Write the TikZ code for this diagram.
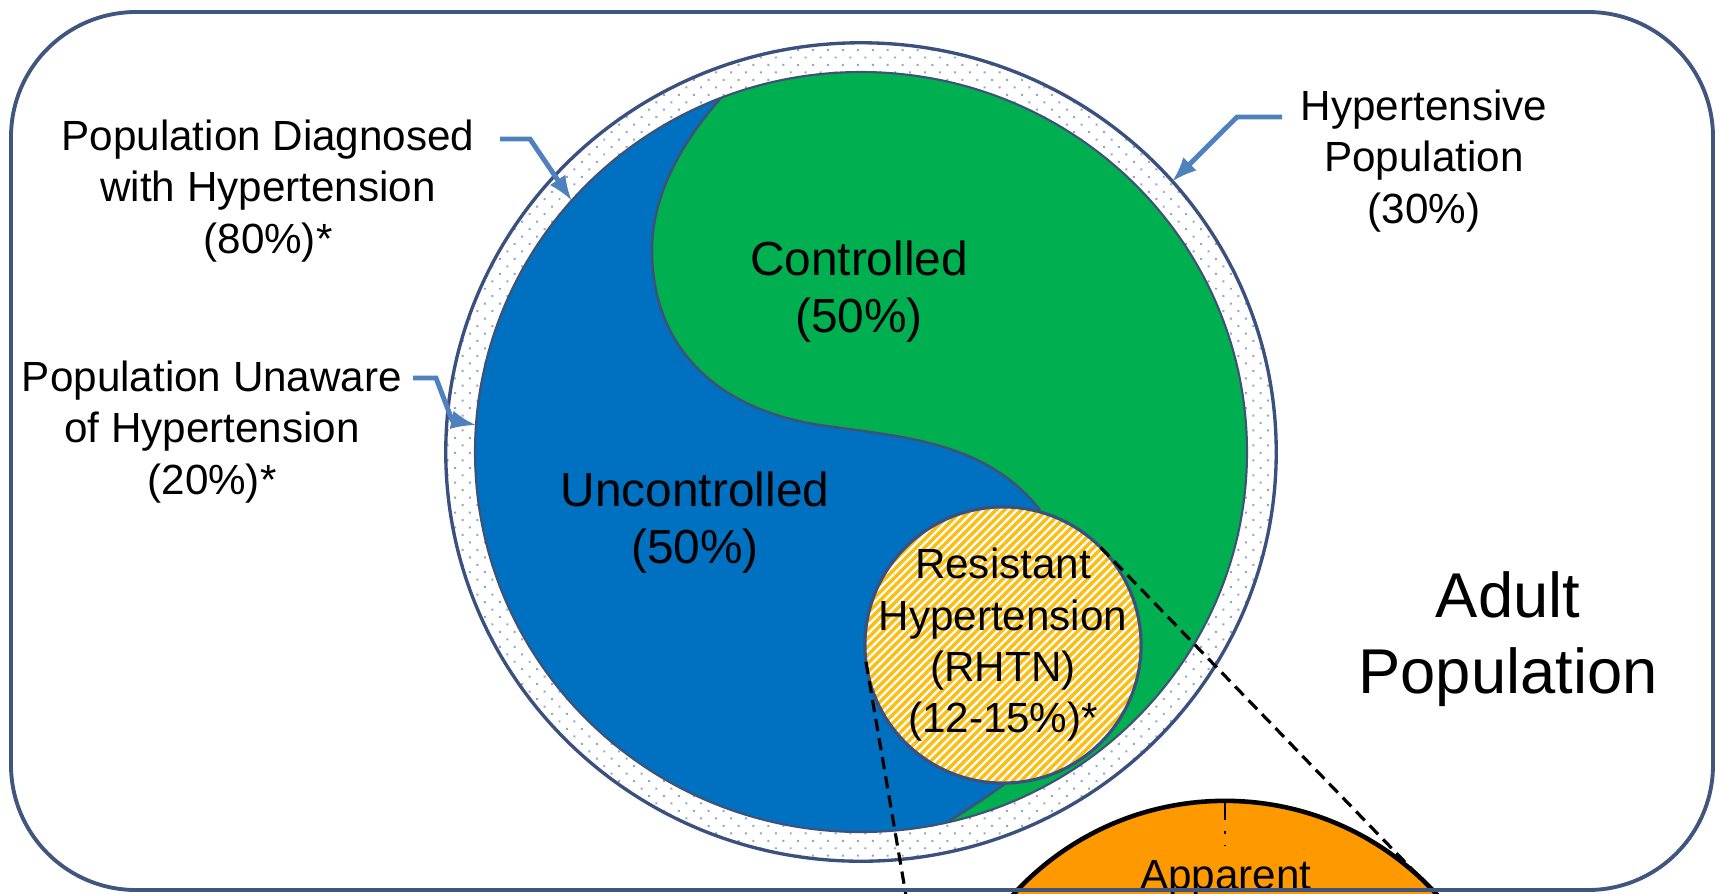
\documentclass[tikz,border=0pt]{standalone}
\usepackage{fontspec}
\setmainfont{Liberation Sans}
\usetikzlibrary{shapes.geometric,patterns.meta}
\definecolor{framebl}{RGB}{64,86,126}
\definecolor{ringbl}{RGB}{58,80,126}
\definecolor{dotgray}{RGB}{150,165,195}
\definecolor{uncblue}{RGB}{0,112,192}
\definecolor{ctrlgreen}{RGB}{0,176,80}
\definecolor{rhtngold}{RGB}{250,190,20}
\definecolor{apporange}{RGB}{255,153,0}
\definecolor{arrowbl}{RGB}{79,129,189}
\definecolor{edgegray}{RGB}{62,82,120}
\tikzset{
	lbl/.style={align=center,font=\fontsize{12}{14.6}\selectfont},
	biglbl/.style={align=center,font=\fontsize{13.6}{16.2}\selectfont},
	callout/.style={draw=arrowbl,line width=1.4pt,-latex},
	zoomline/.style={draw=black,line width=0.9pt,dash pattern=on 3.5pt off 2pt},
	disc/.style={ellipse,inner sep=0pt,outer sep=0pt},
}

\begin{document}
\begin{tikzpicture}[x=0.01cm,y=-0.01cm]
		\useasboundingbox (0,0) rectangle (1721,893);
		\clip (0,0) rectangle (1721,893);
		% hypertensive ring and diagnosed disc
		\node (htn) [disc,preaction={fill=white},pattern={Dots[radius=0.4pt,distance=3pt,angle=45]},pattern color=dotgray,draw=ringbl,line width=0.95pt,minimum width=8.30cm,minimum height=8.18cm] at (861,452) {};
		\node (diagnosed) [disc,fill=uncblue,minimum width=7.72cm,minimum height=7.60cm] at (861,452) {};
		\begin{scope}
			\clip (861,452) ellipse [x radius=386,y radius=380];
			\fill[ctrlgreen] (770,50) .. controls (700,110) and (652,180) .. (652,250) .. controls (652,350) and (720,410) .. (820,425) .. controls (900,437) and (985,440) .. (1040,510) -- (1007,782) .. controls (990,795) and (970,808) .. (935,830) -- (935,900) -- (1300,900) -- (1300,0) -- (770,0) -- cycle;
			\draw[edgegray,line width=0.7pt] (770,50) .. controls (700,110) and (652,180) .. (652,250) .. controls (652,350) and (720,410) .. (820,425) .. controls (900,437) and (985,440) .. (1040,510);
			\draw[edgegray,line width=0.7pt] (1007,782) .. controls (990,795) and (970,808) .. (935,830);
		\end{scope}
		\draw[edgegray,line width=0.6pt] (861,452) ellipse [x radius=386,y radius=380];
		% resistant hypertension
		\node (rhtn) [circle,preaction={fill=rhtngold},pattern={Lines[angle=45,distance=1.7pt,line width=0.65pt]},pattern color=white,draw=ringbl,line width=0.9pt,minimum size=2.76cm,inner sep=0pt,outer sep=0pt] at (1003,645) {};
		\node[lbl] (rhtntxt) at (rhtn.center) {Resistant\\Hypertension\\(RHTN)\\(12-15\%)*};
		% apparent, cut by the bottom edge
		\node (apparent) [circle,fill=apporange,draw=black,line width=1.3pt,minimum size=5.72cm,inner sep=0pt,outer sep=0pt] at (1225,1087) {};
		\draw[black,line width=0.8pt,dash pattern=on 5.5pt off 3pt on 1pt off 3pt] (apparent.north) -- ++(0,45);
		\node[lbl,anchor=base] (apptxt) at (1226,889) {Apparent};
		\foreach \from/\to in {187/west,45/47} % edit here for the zoom lines
		\draw[zoomline] (rhtn.\from) -- (apparent.\to);
		\draw[framebl,line width=1.1pt,rounded corners=1.25cm] (11,12) rectangle (1713,890);
		% labels
		\node[lbl] (diag) at (268,191) {Population Diagnosed\\with Hypertension\\(80\%)*};
		\node[lbl] (unaware) at (212,432) {Population Unaware\\of Hypertension\\(20\%)*};
		\node[lbl] (hyper) at (1424,161) {Hypertensive\\Population\\(30\%)};
		\node[biglbl] (ctrl) at (859,292) {Controlled\\(50\%)};
		\node[biglbl] (unctrl) at (695,523) {Uncontrolled\\(50\%)};
		\node[align=center,font=\fontsize{18}{21.5}\selectfont] (adult) at (1508,639) {Adult\\Population};
		% callouts
		\coordinate (diagtail) at (500,139);
		\coordinate (unawaretail) at (413,378);
		\coordinate (hypertail) at (1282,117);
		\draw[callout] (diagtail) -- ++(30,0) -- (diagnosed.139);
		\draw[callout] (unawaretail) -- ++(23,0) -- ++(16,42) -- (diagnosed.176);
		\draw[callout] (hypertail) -- ++(-45,0) -- (htn.41);
	\end{tikzpicture}
\end{document}
